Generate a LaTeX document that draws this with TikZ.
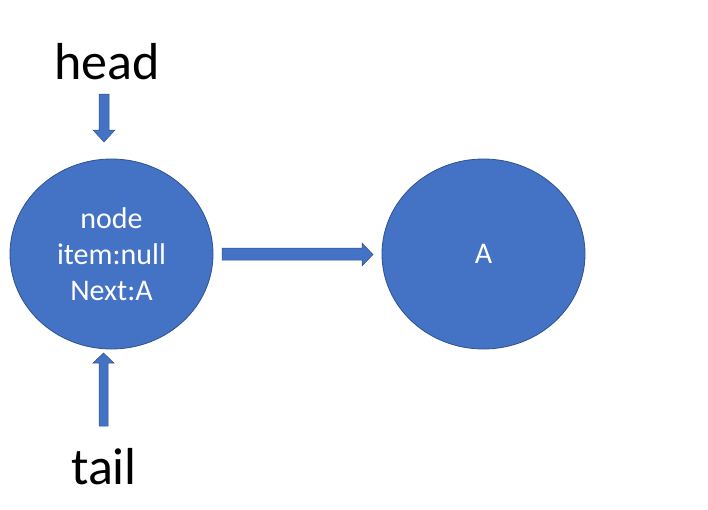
\documentclass[tikz,border=0pt]{standalone}
\usepackage{fontspec}
\setmainfont{Carlito}
\definecolor{fillblue}{HTML}{4472C4}
\definecolor{edgeblue}{HTML}{2F528F}
\usetikzlibrary{shapes.geometric}
\tikzset{
  bubble/.style={ellipse, draw=edgeblue, line width=0.8pt, fill=fillblue, minimum width=203pt, minimum height=190pt, inner sep=0pt, text=white, align=center, font=\fontsize{30}{36}\selectfont},
  blockarrow/.style={fill=fillblue, draw=edgeblue, line width=0.5pt},
  bigtext/.style={font=\fontsize{52}{60}\selectfont, inner sep=0pt}
}
\begin{document}
\begin{tikzpicture}[x=1pt,y=-1pt]
\useasboundingbox (0,0) rectangle (708,509);
\node[bubble] (n1) at (111.5,254) {node\\item:null\\Next:A};
\node[bubble] (n2) at (483.5,254) {A};
\node[bigtext] (head) at (107,62) {head};
\node[bigtext] (tail) at (104,467) {tail};
% head arrow (down)
\draw[blockarrow] (99,94) -- (109,94) -- (109,130) -- (115,130) -- (104,142) -- (93,130) -- (99,130) -- cycle;
% tail arrow (up)
\draw[blockarrow] (99,426) -- (108,426) -- (108,363) -- (114,363) -- (103.5,353) -- (93,363) -- (99,363) -- cycle;
% right arrow
\draw[blockarrow] (222,248) -- (362,248) -- (362,243) -- (373,254.5) -- (362,266) -- (362,260) -- (222,260) -- cycle;
\end{tikzpicture}
\end{document}
